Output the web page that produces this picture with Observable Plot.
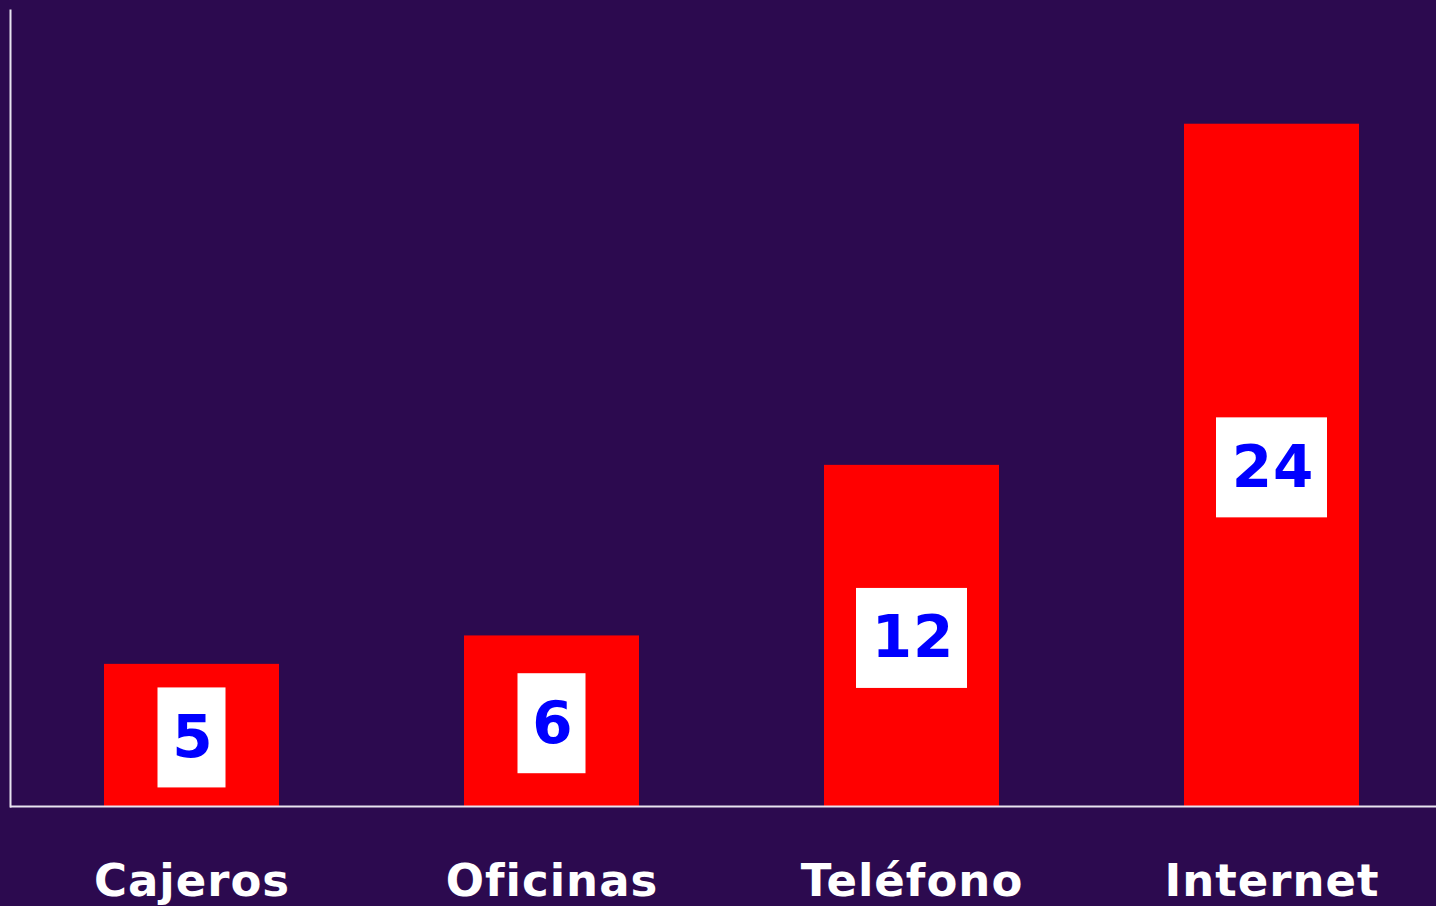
<!DOCTYPE html>
<html>
<head>
<meta charset="utf-8">
<script src="https://cdn.jsdelivr.net/npm/d3@7"></script>
<script src="https://cdn.jsdelivr.net/npm/@observablehq/plot@0.6"></script>
<style>
  html, body { margin: 0; padding: 0; background: #2c0a4f; overflow: hidden; }
  #chart svg { display: block; }
  #chart g[aria-label="x-axis tick label"] text { letter-spacing: 1px; }
  #chart g.value-label text { letter-spacing: 1px; }
</style>
</head>
<body>
<div id="chart"></div>
<script>
const categories = ["Cajeros", "Oficinas", "Teléfono", "Internet"];
const values = [5, 6, 12, 24];
const valueLabels = ["5", "6", "12", "24"];

const data = categories.map((c, i) => ({ name: c, value: values[i], label: valueLabels[i] }));
const oneDigit = data.filter(d => d.label.length === 1);
const twoDigit = data.filter(d => d.label.length > 1);

const chart = Plot.plot({
  width: 1436,
  height: 906,
  marginTop: 10,
  marginBottom: 100,
  marginLeft: 10,
  marginRight: 0,
  style: { background: "#2c0a4f", color: "white", fontFamily: "'DejaVu Sans', Verdana, sans-serif" },
  x: { domain: categories, range: [10, 1453], paddingInner: 0.515, paddingOuter: 0.2575, label: null },
  y: { domain: [0, 28], axis: null },
  marks: [
    Plot.barY(data, { x: "name", y: "value", fill: "#ff0000" }),
    Plot.barY(oneDigit, { x: "name", y1: d => d.value / 2, y2: d => d.value / 2, fill: "white",
      insetLeft: 53.5, insetRight: 53.5, insetTop: -50, insetBottom: -50, dy: 2.5 }),
    Plot.barY(twoDigit, { x: "name", y1: d => d.value / 2, y2: d => d.value / 2, fill: "white",
      insetLeft: 32, insetRight: 32, insetTop: -50, insetBottom: -50, dy: 2.5 }),
    Plot.text(data, { x: "name", y: d => d.value / 2, text: "label", fill: "#0000ff",
      fontSize: 58, fontWeight: "bold", lineAnchor: "middle", dx: 1, dy: 3, className: "value-label" }),
    Plot.ruleY([0], { stroke: "#e8e4f0", strokeWidth: 2 }),
    Plot.frame({ anchor: "left", stroke: "#e8e4f0", strokeWidth: 2 }),
    Plot.axisX({ tickSize: 0, tickPadding: 58, fontSize: 45, fontWeight: "bold", fill: "white", label: null })
  ]
});
document.getElementById("chart").appendChild(chart);
</script>
</body>
</html>
